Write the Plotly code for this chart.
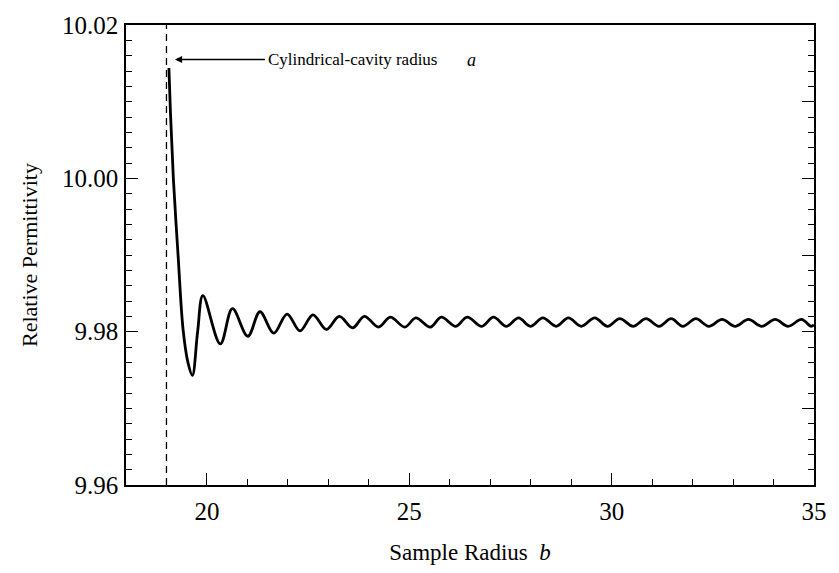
import plotly.graph_objects as go

# Sample radius b (x) and relative permittivity (y)
radius_b = [19.06, 19.10, 19.17, 19.29, 19.41, 19.53, 19.64, 19.77, 19.90,
            20.33, 20.63, 21.01, 21.31, 21.65, 21.98, 22.30, 22.62, 22.95, 23.27,
            23.60, 23.89, 24.24, 24.53, 24.89, 25.16, 25.52, 25.79, 26.15, 26.43,
            26.79, 27.08, 27.40, 27.70, 27.99, 28.30, 28.63, 28.93, 29.25, 29.58,
            29.90, 30.20, 30.53, 30.85, 31.17, 31.47, 31.76, 32.08, 32.40, 32.73,
            33.05, 33.38, 33.71, 34.04, 34.36, 34.69, 34.93, 35.00]
permittivity = [10.0144, 10.0084, 10.0000, 9.9897, 9.9803, 9.9760, 9.9743, 9.9800, 9.9847,
                9.9784, 9.9830, 9.9794, 9.9826, 9.9798, 9.9823, 9.9801, 9.9822, 9.9803, 9.9820,
                9.9805, 9.9820, 9.9806, 9.9819, 9.9806, 9.9818, 9.9806, 9.9819, 9.9807, 9.9819,
                9.9807, 9.9819, 9.9807, 9.9818, 9.9807, 9.9818, 9.9807, 9.9818, 9.9807, 9.9818,
                9.9807, 9.9817, 9.9807, 9.9817, 9.9807, 9.9817, 9.9807, 9.9817, 9.9807, 9.9816,
                9.9807, 9.9816, 9.9807, 9.9816, 9.9807, 9.9816, 9.9807, 9.9809]

cavity_radius_a = 19.0
x_range = [18, 35]
y_range = [9.96, 10.02]
x_tick0, x_dtick, x_minor = 20, 5, 1
y_tick0, y_dtick, y_minor = 9.96, 0.02, 0.002

arrow_head = (19.21, 10.0155)
arrow_tail_x = 21.47
label_text = "Cylindrical-cavity radius"
label_a_x = 26.38

FONT = "Liberation Serif"

fig = go.Figure()
fig.add_trace(go.Scatter(x=[cavity_radius_a, cavity_radius_a], y=y_range, mode="lines",
                         line=dict(color="black", width=1.3, dash="7px,5px"),
                         showlegend=False, hoverinfo="skip"))
fig.add_trace(go.Scatter(x=radius_b, y=permittivity, mode="lines",
                         line=dict(color="black", width=2.8, shape="spline", smoothing=1.0),
                         showlegend=False))
# helper trace for the right-hand frame axis
fig.add_trace(go.Scatter(x=[None], y=[None], yaxis="y2", showlegend=False, hoverinfo="skip"))

fig.update_layout(
    width=839, height=573,
    margin=dict(l=126, r=19, t=16, b=88),
    paper_bgcolor="white", plot_bgcolor="white",
    font=dict(family=FONT, color="black"),
    xaxis=dict(range=x_range, tickmode="linear", tick0=x_tick0, dtick=x_dtick,
               ticks="inside", ticklen=12, tickwidth=1.2, tickcolor="black",
               showline=True, linecolor="black", linewidth=1.5, mirror=True,
               showgrid=False, zeroline=False, ticklabelstandoff=3,
               tickfont=dict(size=25, family=FONT, color="black"),
               minor=dict(dtick=x_minor, tick0=18, ticks="inside", ticklen=6, tickwidth=1.2,
                          tickcolor="black", showgrid=False),
               title=dict(text="Sample Radius&nbsp;&nbsp;<i>b</i>",
                          font=dict(size=23, family=FONT, color="black"), standoff=20)),
    yaxis=dict(range=y_range, tickmode="linear", tick0=y_tick0, dtick=y_dtick, tickformat=".2f",
               ticks="inside", ticklen=12, tickwidth=1.2, tickcolor="black",
               showline=True, linecolor="black", linewidth=1.5, mirror=True,
               showgrid=False, zeroline=False, ticklabelstandoff=1,
               tickfont=dict(size=25, family=FONT, color="black"),
               minor=dict(dtick=y_minor, tick0=y_tick0, ticks="inside", ticklen=6, tickwidth=1.2,
                          tickcolor="black", showgrid=False),
               title=dict(text="Relative Permittivity",
                          font=dict(size=22, family=FONT, color="black"), standoff=18)),
    yaxis2=dict(range=y_range, overlaying="y", side="right", dtick=0.01, tick0=y_tick0,
                ticks="inside", ticklen=12, tickwidth=1.2, tickcolor="black",
                showticklabels=False, showline=False, showgrid=False, zeroline=False,
                minor=dict(dtick=y_minor, tick0=y_tick0, ticks="inside", ticklen=6, tickwidth=1.2,
                           tickcolor="black", showgrid=False)),
)

fig.add_annotation(x=arrow_head[0], y=arrow_head[1], ax=arrow_tail_x, ay=arrow_head[1],
                   xref="x", yref="y", axref="x", ayref="y", text="", showarrow=True,
                   arrowhead=2, arrowsize=1.1, arrowwidth=1.3, arrowcolor="black", standoff=0)
fig.add_annotation(x=arrow_tail_x, y=arrow_head[1], xref="x", yref="y", text=label_text,
                   showarrow=False, xanchor="left", yanchor="middle",
                   font=dict(size=17, family=FONT, color="black"))
fig.add_annotation(x=label_a_x, y=arrow_head[1], xref="x", yref="y", text="<i>a</i>",
                   showarrow=False, xanchor="left", yanchor="middle",
                   font=dict(size=18, family=FONT, color="black"))

fig.write_html("out.html")
